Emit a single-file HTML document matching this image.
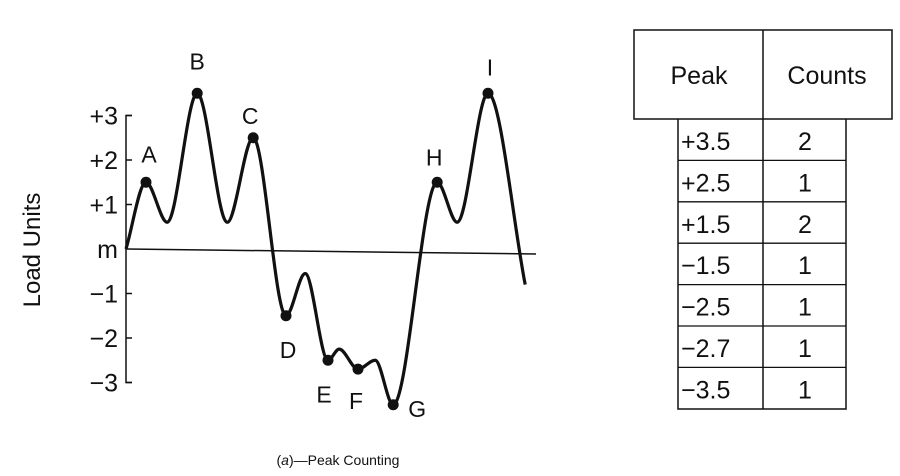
<!DOCTYPE html>
<html><head><meta charset="utf-8"><style>
html,body{margin:0;padding:0;background:#fff;}
svg{display:block;}
text{font-family:"Liberation Sans",sans-serif;fill:#111;}
</style></head><body>
<svg id="chart" width="900" height="476" viewBox="0 0 900 476">
<g id="plot"></g>
<g id="table"></g>
<text x="338" y="465" font-size="14" text-anchor="middle">(<tspan font-style="italic">a</tspan>)—Peak Counting</text>
</svg>
<script>
// Load history (time units, load units)
const times = [0, 5, 10.3, 17.8, 25.3, 31.8, 40, 44.8, 50.5, 53.3, 58, 62.3, 66.8, 77.8, 82.8, 90.5, 99.8];
const loads = [0, 1.5, 0.6, 3.5, 0.6, 2.5, -1.5, -0.55, -2.5, -2.25, -2.7, -2.5, -3.5, 1.5, 0.6, 3.5, -0.8];
const peakLabels = ["A","B","C","D","E","F","G","H","I"];
const peakIndex = [1,3,5,6,8,10,12,13,15];
const yTicks = [3,2,1,0,-1,-2,-3];
const yTickLabels = ["+3","+2","+1","m","\u22121","\u22122","\u22123"];
const tablePeaks = ["+3.5","+2.5","+1.5","\u22121.5","\u22122.5","\u22122.7","\u22123.5"];
const tableCounts = ["2","1","2","1","1","1","1"];

const NS="http://www.w3.org/2000/svg";
function mk(tag,attrs,parent){const e=document.createElementNS(NS,tag);for(const k in attrs)e.setAttribute(k,attrs[k]);parent.appendChild(e);return e;}
const xS=t=>126+t*4;
const yS=v=>249-v*44.5;
const plot=document.getElementById('plot');

// axis
const ax=mk('path',{d:`M${xS(0)+6} ${yS(3)} H${xS(0)} V${yS(-3)} H${xS(0)+6}`,fill:'none',stroke:'#111','stroke-width':1.5},plot);


yTicks.forEach((v,i)=>{
  if(v!==0){const tk=mk('line',{x1:xS(0),x2:xS(0)+6,y1:yS(v),y2:yS(v),stroke:'#111','stroke-width':1.5},plot);
  
  }
  const t=mk('text',{x:xS(0)-8,y:yS(v)+9,'font-size':25,'text-anchor':'end'},plot);
  t.textContent=yTickLabels[i];
  
  
});
const ml=mk('line',{x1:xS(0),y1:yS(0),x2:536,y2:254,stroke:'#111','stroke-width':1.5},plot);


const yt=mk('text',{x:0,y:0,'font-size':24,'text-anchor':'middle',transform:'translate(40,250) rotate(-90)',fill:'#444'},plot);
yt.textContent='Load Units';



// curve (monotone cubic: extrema exactly at data points)
const pts=times.map((t,i)=>[xS(t),yS(loads[i])]);
const n=pts.length;
const sec=[];
for(let i=0;i<n-1;i++)sec.push((pts[i+1][1]-pts[i][1])/(pts[i+1][0]-pts[i][0]));
const m=[];
for(let i=0;i<n;i++){
  if(i===0)m.push(sec[0]);
  else if(i===n-1)m.push(sec[n-2]);
  else if(sec[i-1]*sec[i]<=0)m.push(0);
  else m.push(2/(1/sec[i-1]+1/sec[i]));
}
let d=`M${pts[0][0]} ${pts[0][1]}`;
for(let i=0;i<n-1;i++){
  const h=(pts[i+1][0]-pts[i][0])/3;
  d+=` C${pts[i][0]+h} ${pts[i][1]+m[i]*h} ${pts[i+1][0]-h} ${pts[i+1][1]-m[i+1]*h} ${pts[i+1][0]} ${pts[i+1][1]}`;
}
const cv=mk('path',{d:d,fill:'none',stroke:'#111','stroke-width':3.2,'stroke-linejoin':'round'},plot);



const lblOff={A:[3,-20],B:[0,-24],C:[-3,-14],D:[2,42],E:[-4,42],F:[-2,40],G:[24,12],H:[-3,-17],I:[2,-18]};
peakIndex.forEach((pi,j)=>{
  const [x,y]=pts[pi];
  const c=mk('circle',{cx:x,cy:y,r:5.5,fill:'#111'},plot);
  
  
  const L=peakLabels[j],o=lblOff[L];
  const t=mk('text',{x:x+o[0],y:y+o[1],'font-size':23,'text-anchor':'middle'},plot);
  t.textContent=L;
  
  
});

// table
const tb=document.getElementById('table');
const hb=mk('rect',{x:634,y:30,width:258,height:89,fill:'none',stroke:'#111','stroke-width':1.5},tb);


mk('line',{x1:763,x2:763,y1:30,y2:409,stroke:'#111','stroke-width':1.5},tb);
[['Peak',699],['Counts',827]].forEach(([s,x])=>{
  const t=mk('text',{x:x,y:84,'font-size':25,'text-anchor':'middle'},tb);
  t.textContent=s;
  
  
});
mk('path',{d:'M678 119 V409 H846 V119',fill:'none',stroke:'#111','stroke-width':1.5},tb);
const rowH=41.4;
tablePeaks.forEach((p,i)=>{
  const y0=119+i*rowH;
  if(i>0){const l=mk('line',{x1:678,x2:846,y1:y0,y2:y0,stroke:'#111','stroke-width':1.3},tb);
  
  }
  const a=mk('text',{x:681,y:y0+31,'font-size':25},tb);
  a.textContent=p;
  
  
  const b=mk('text',{x:805,y:y0+31,'font-size':25,'text-anchor':'middle'},tb);
  b.textContent=tableCounts[i];
  
  
});
</script>
</body></html>
